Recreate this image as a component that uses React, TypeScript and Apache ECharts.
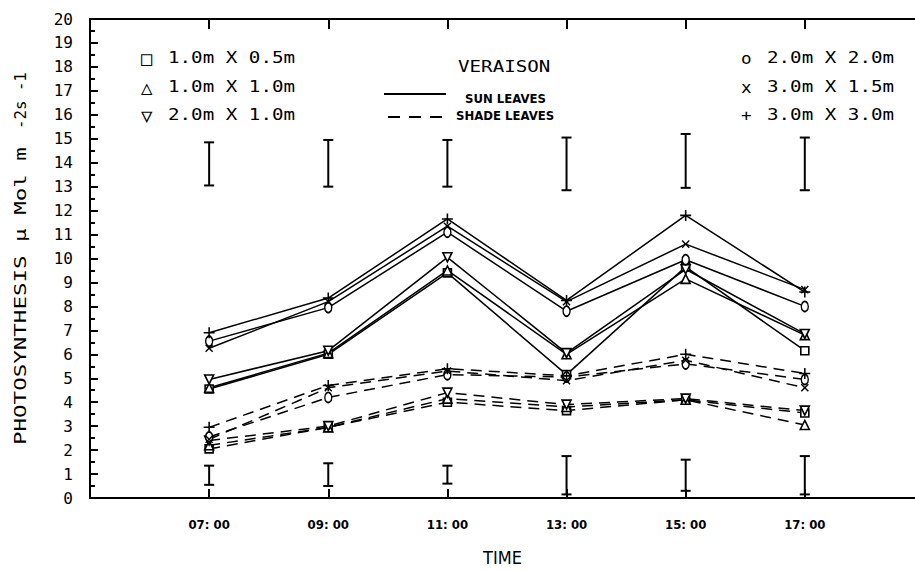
import React, { useEffect, useRef } from 'react';
import * as echarts from 'echarts';

// ---- data ----
const times = [7, 9, 11, 13, 15, 17];
const timeLabels = ['07: 00', '09: 00', '11: 00', '13: 00', '15: 00', '17: 00'];

// Sun leaves (solid lines)
const sun1x05 = [4.55, 6.0, 9.4, 5.15, 9.65, 6.15];
const sun1x1 = [4.6, 6.05, 9.5, 6.0, 9.15, 6.8];
const sun2x1 = [4.95, 6.15, 10.05, 6.05, 9.55, 6.85];
const sun2x2 = [6.55, 7.95, 11.1, 7.8, 9.95, 8.0];
const sun3x15 = [6.25, 8.2, 11.35, 8.2, 10.6, 8.7];
const sun3x3 = [6.9, 8.35, 11.65, 8.25, 11.8, 8.6];

// Shade leaves (dashed lines)
const shade1x05 = [2.05, 2.95, 4.0, 3.65, 4.1, 3.55];
const shade1x1 = [2.2, 2.95, 4.15, 3.8, 4.1, 3.05];
const shade2x1 = [2.4, 3.0, 4.4, 3.9, 4.15, 3.65];
const shade2x2 = [2.55, 4.2, 5.15, 5.05, 5.6, 4.95];
const shade3x15 = [2.45, 4.6, 5.3, 4.9, 5.75, 4.6];
const shade3x3 = [2.95, 4.7, 5.4, 5.1, 6.0, 5.2];

// Error bars
const sunErrLow = [13.05, 13.0, 13.0, 12.85, 12.95, 12.85];
const sunErrHigh = [14.85, 14.95, 14.95, 15.05, 15.2, 15.05];
const shadeErrLow = [0.55, 0.5, 0.6, 0.15, 0.3, 0.15];
const shadeErrHigh = [1.35, 1.45, 1.35, 1.75, 1.6, 1.75];

// Legend texts
const leftSpacings = ['1.0m X 0.5m', '1.0m X 1.0m', '2.0m X 1.0m'];
const leftSymbols = ['□', '△', '▽'];
const rightSpacings = ['2.0m X 2.0m', '3.0m X 1.5m', '3.0m X 3.0m'];
const rightSymbols = ['o', 'x', '+'];

const MONO = 'DejaVu Sans Mono';
const COND = 'DejaVu Sans Condensed';
const PLUS = 'path://M4.3,0H5.7V4.3H10V5.7H5.7V10H4.3V5.7H0V4.3H4.3Z';

type Sym = { symbol: string; size: number | number[]; rotate?: number; filled?: boolean };
const SYM_SQ: Sym = { symbol: 'rect', size: 8 };
const SYM_TU: Sym = { symbol: 'triangle', size: 9 };
const SYM_TD: Sym = { symbol: 'triangle', size: 9, rotate: 180 };
const SYM_O: Sym = { symbol: 'circle', size: [7, 10] };
const SYM_X: Sym = { symbol: PLUS, size: 10, rotate: 45, filled: true };
const SYM_P: Sym = { symbol: PLUS, size: 11, filled: true };

function lineSeries(name: string, vals: number[], s: Sym, dashed: boolean) {
  return {
    type: 'line',
    name,
    data: times.map((t, i) => [t, vals[i]]),
    symbol: s.symbol,
    symbolSize: s.size,
    symbolRotate: s.rotate || 0,
    showAllSymbol: true,
    lineStyle: { color: '#000', width: 1.5, type: dashed ? [11, 7] : 'solid' },
    itemStyle: {
      color: s.filled ? '#000' : '#fff',
      borderColor: '#000',
      borderWidth: s.filled ? 0 : 1.6,
    },
    silent: true,
    z: 3,
  };
}

function errSeries(lo: number[], hi: number[]) {
  return {
    type: 'custom',
    silent: true,
    encode: { x: 0, y: [1, 2] },
    data: times.map((t, i) => [t, lo[i], hi[i]]),
    renderItem: (params: any, api: any) => {
      const x = api.value(0);
      const pLo = api.coord([x, api.value(1)]);
      const pHi = api.coord([x, api.value(2)]);
      const hw = 5;
      const st = { stroke: '#000', lineWidth: 2 };
      return {
        type: 'group',
        children: [
          { type: 'line', shape: { x1: pLo[0], y1: pLo[1], x2: pHi[0], y2: pHi[1] }, style: st },
          { type: 'line', shape: { x1: pLo[0] - hw, y1: pLo[1], x2: pLo[0] + hw, y2: pLo[1] }, style: st },
          { type: 'line', shape: { x1: pHi[0] - hw, y1: pHi[1], x2: pHi[0] + hw, y2: pHi[1] }, style: st },
        ],
      };
    },
    z: 2,
  };
}

function plotterText(text: string, x: number, y: number, fontSize: number, scaleX: number, extra: any = {}) {
  return {
    type: 'text',
    x,
    y,
    scaleX,
    style: {
      text,
      fill: '#000',
      font: `${fontSize}px "${MONO}"`,
      align: 'left',
      verticalAlign: 'middle',
      ...extra,
    },
    silent: true,
  };
}

export default function App() {
  const ref = useRef<HTMLDivElement>(null);

  useEffect(() => {
    if (!ref.current) return;
    const chart = echarts.init(ref.current, undefined, { renderer: 'svg' });

    const graphics: any[] = [];
    // y-axis title
    graphics.push({
      type: 'text',
      x: 21,
      y: 445,
      rotation: Math.PI / 2,
      scaleX: 1.5,
      style: { text: 'PHOTOSYNTHESIS μ Mol m', fill: '#000', font: `15px "${MONO}"`, align: 'left', verticalAlign: 'middle' },
      silent: true,
    });
    graphics.push({
      type: 'text',
      x: 21,
      y: 129,
      rotation: Math.PI / 2,
      scaleX: 1.05,
      style: { text: '-2s -1', fill: '#000', font: `15px "${MONO}"`, align: 'left', verticalAlign: 'middle' },
      silent: true,
    });
    // left legend
    const rowsY = [58, 87, 115];
    leftSpacings.forEach((t, i) => {
      graphics.push(plotterText(leftSymbols[i], 141, rowsY[i], 19, 1));
      graphics.push(plotterText(t, 168, rowsY[i], 16, 1.2));
    });
    rightSpacings.forEach((t, i) => {
      graphics.push(plotterText(rightSymbols[i], 741, rowsY[i], 16, 1.1));
      graphics.push(plotterText(t, 767, rowsY[i], 16, 1.2));
    });
    // center legend
    graphics.push(plotterText('VERAISON', 458, 67, 16, 1.2));
    graphics.push({
      type: 'line',
      shape: { x1: 384, y1: 94, x2: 446, y2: 94 },
      style: { stroke: '#000', lineWidth: 1.8 },
      silent: true,
    });
    graphics.push({
      type: 'line',
      shape: { x1: 388, y1: 117, x2: 442, y2: 117 },
      style: { stroke: '#000', lineWidth: 1.8, lineDash: [12, 9] },
      silent: true,
    });
    graphics.push({
      type: 'text',
      x: 465,
      y: 98,
      style: { text: 'SUN LEAVES', fill: '#000', font: `bold 13px "${COND}"`, align: 'left', verticalAlign: 'middle' },
      silent: true,
    });
    graphics.push({
      type: 'text',
      x: 456,
      y: 115,
      style: { text: 'SHADE LEAVES', fill: '#000', font: `bold 13px "${COND}"`, align: 'left', verticalAlign: 'middle' },
      silent: true,
    });

    const axisLineStyle = { color: '#000', width: 2 };

    chart.setOption({
      animation: false,
      backgroundColor: '#fff',
      grid: { left: 90, right: 0, top: 19, bottom: 65 },
      xAxis: [
        {
          type: 'value',
          position: 'bottom',
          min: 5,
          max: 18.85,
          axisLine: { show: true, onZero: false, lineStyle: axisLineStyle },
          axisTick: { show: true, inside: true, length: 9, customValues: times, lineStyle: { color: '#000', width: 2 } },
          axisLabel: {
            customValues: times,
            formatter: (v: number) => {
              const i = times.indexOf(v);
              return i >= 0 ? timeLabels[i] : '';
            },
            margin: 20,
            color: '#000',
            fontFamily: COND,
            fontWeight: 'bold',
            fontSize: 13,
          },
          splitLine: { show: false },
          name: 'TIME',
          nameLocation: 'middle',
          nameGap: 50,
          nameTextStyle: { color: '#000', fontFamily: COND, fontSize: 18 },
        },
        {
          type: 'value',
          position: 'top',
          min: 5,
          max: 18.85,
          axisLine: { show: true, onZero: false, lineStyle: axisLineStyle },
          axisTick: { show: true, inside: true, length: 10, customValues: times, lineStyle: { color: '#000', width: 2 } },
          axisLabel: { show: false },
          splitLine: { show: false },
        },
      ],
      yAxis: {
        type: 'value',
        min: 0,
        max: 20,
        interval: 1,
        axisLine: { show: true, onZero: false, lineStyle: axisLineStyle },
        axisTick: { show: true, inside: true, length: 8, lineStyle: { color: '#000', width: 2 } },
        minorTick: { show: true, splitNumber: 2, length: 5, lineStyle: { color: '#000', width: 2 } },
        axisLabel: { color: '#000', fontFamily: MONO, fontSize: 16, margin: 17 },
        splitLine: { show: false },
        minorSplitLine: { show: false },
      },
      graphic: graphics,
      series: [
        errSeries(sunErrLow, sunErrHigh),
        errSeries(shadeErrLow, shadeErrHigh),
        lineSeries('Sun 1.0m X 0.5m', sun1x05, SYM_SQ, false),
        lineSeries('Sun 1.0m X 1.0m', sun1x1, SYM_TU, false),
        lineSeries('Sun 2.0m X 1.0m', sun2x1, SYM_TD, false),
        lineSeries('Sun 2.0m X 2.0m', sun2x2, SYM_O, false),
        lineSeries('Sun 3.0m X 1.5m', sun3x15, SYM_X, false),
        lineSeries('Sun 3.0m X 3.0m', sun3x3, SYM_P, false),
        lineSeries('Shade 1.0m X 0.5m', shade1x05, SYM_SQ, true),
        lineSeries('Shade 1.0m X 1.0m', shade1x1, SYM_TU, true),
        lineSeries('Shade 2.0m X 1.0m', shade2x1, SYM_TD, true),
        lineSeries('Shade 2.0m X 2.0m', shade2x2, SYM_O, true),
        lineSeries('Shade 3.0m X 1.5m', shade3x15, SYM_X, true),
        lineSeries('Shade 3.0m X 3.0m', shade3x3, SYM_P, true),
      ],
    });

    return () => chart.dispose();
  }, []);

  return (
    <div
      ref={ref}
      style={{ position: 'absolute', left: 0, top: 0, width: 915, height: 571, background: '#fff' }}
    />
  );
}
